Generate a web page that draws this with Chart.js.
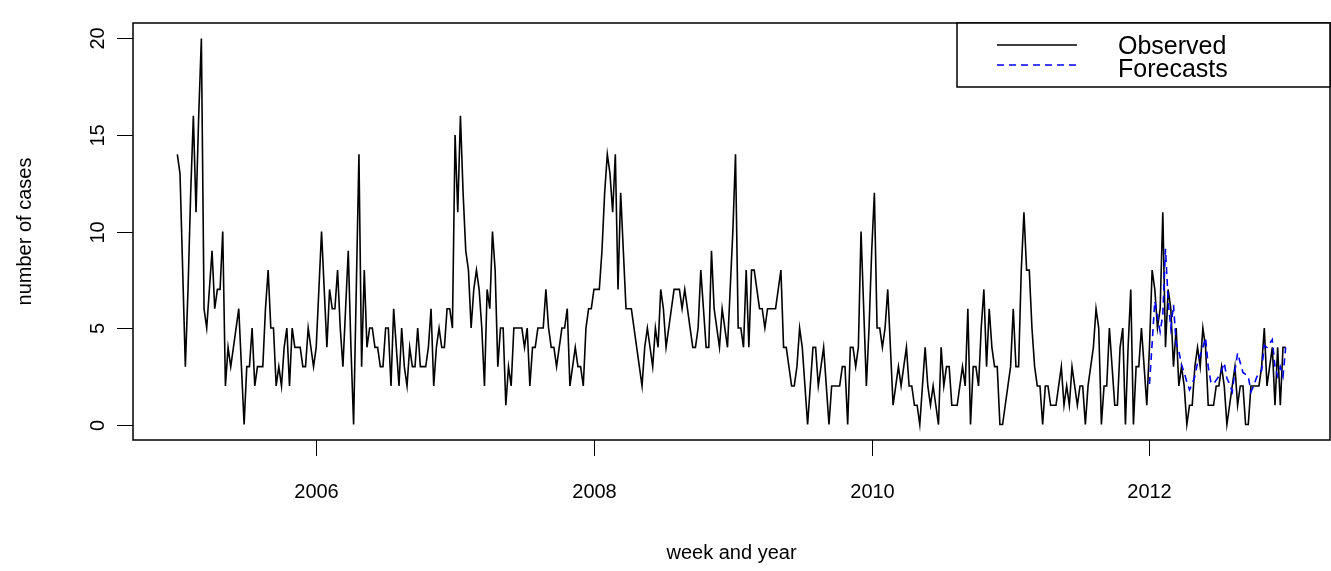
<!DOCTYPE html>
<html>
<head>
<meta charset="utf-8">
<script src="https://cdn.jsdelivr.net/npm/chart.js@4/dist/chart.umd.min.js"></script>
<style>
  html, body { margin: 0; padding: 0; background: #fff; }
  #wrap { width: 1331px; height: 571px; }
</style>
</head>
<body>
<div id="wrap"><canvas id="c" width="1331" height="571"></canvas></div>
<script>
// Weekly case counts, first week of 2005 onward (52 weeks per year)
const startYear = 2005;
const weeksPerYear = 52;
const observed = [
  14,13,8,3,7,12,16,11,16,20,6,5,7,9,6,7,7,10,2,4,3,4,5,6,3,0,
  3,3,5,2,3,3,3,6,8,5,5,2,3,2,4,5,2,5,4,4,4,3,3,5,4,3,
  4,7,10,7,4,7,6,6,8,5,3,6,9,4,0,7,14,3,8,4,5,5,4,4,3,3,
  5,5,2,6,4,2,5,3,2,4,3,3,5,3,3,3,4,6,2,4,5,4,4,6,6,5,
  15,11,16,12,9,8,5,7,8,7,5,2,7,6,10,8,3,5,5,1,3,2,5,5,5,5,
  4,5,2,4,4,5,5,5,7,5,4,4,3,4,5,5,6,2,3,4,3,3,2,5,6,6,
  7,7,7,9,12,14,13,11,14,7,12,9,6,6,6,5,4,3,2,4,5,4,3,5,4,7,
  6,4,5,6,7,7,7,6,7,6,5,4,4,5,8,6,4,4,9,6,5,4,6,5,4,7,
  10,14,5,5,4,8,4,8,8,7,6,6,5,6,6,6,6,7,8,4,4,3,2,2,3,5,
  4,2,0,2,4,4,2,3,4,2,0,2,2,2,2,3,3,0,4,4,3,4,10,6,2,5,
  9,12,5,5,4,5,7,4,1,2,3,2,3,4,2,2,1,1,0,2,4,2,1,2,1,0,
  4,2,3,3,1,1,1,2,3,2,6,0,3,3,2,5,7,3,6,4,3,3,0,0,1,2,
  3,6,3,3,8,11,8,8,5,3,2,2,0,2,2,1,1,1,2,3,1,2,1,3,2,1,
  2,2,0,2,3,4,6,5,0,2,2,5,3,1,1,4,5,0,4,7,0,3,3,5,3,1,
  4,8,7,5,6,11,4,7,6,3,5,2,3,2,0,1,1,3,4,3,5,4,1,1,1,2,
  2,3,2,0,1,2,3,1,2,2,0,0,2,2,2,2,3,5,2,3,4,1,4,1,4,4
];

// One-step-ahead forecasts for the weeks of 2012
const forecastStartWeek = 364;
const forecasts = [
  2.1,4.2,6.4,5.6,4.8,5.7,9.1,6.4,5.0,6.2,4.2,3.8,3.1,2.7,2.2,1.8,2.1,2.5,3.2,3.6,
  4.0,4.5,3.0,2.2,2.1,2.3,2.5,2.8,3.2,2.4,2.1,1.7,2.8,3.7,3.2,2.7,2.6,2.5,1.7,2.0,
  2.4,2.7,2.8,4.1,4.0,4.2,4.4,3.0,2.5,3.0,2.5,4.0
];

const xTicks = [2006, 2008, 2010, 2012];
const yTicks = [0, 5, 10, 15, 20];
const seriesNames = ['Observed', 'Forecasts'];
const xTitle = 'week and year';
const yTitle = 'number of cases';

const weekTime = i => startYear + i / weeksPerYear;
const obsPoints = observed.map((v, i) => ({ x: weekTime(i), y: v }));
const fcPoints = forecasts.map((v, i) => ({ x: weekTime(forecastStartWeek + i), y: v }));

// base-graphics style 4% padding around the data range
const xFirst = weekTime(0), xLast = weekTime(observed.length - 1);
const xPad = 0.04 * (xLast - xFirst);
const yLo = Math.min(...observed), yHi = Math.max(...observed);
const yPad = 0.04 * (yHi - yLo);

const FONT = '"Liberation Sans", Arial, Helvetica, sans-serif';

const frame = {
  id: 'frame',
  afterDraw(chart) {
    const { ctx, chartArea: ca, scales } = chart;
    const xs = scales.x, ys = scales.y;
    ctx.save();
    ctx.strokeStyle = '#000';
    ctx.fillStyle = '#000';

    // plot box
    ctx.lineWidth = 1.5;
    ctx.strokeRect(ca.left, ca.top, ca.right - ca.left, ca.bottom - ca.top);

    // x axis ticks and labels
    ctx.lineWidth = 1;
    ctx.font = '20px ' + FONT;
    ctx.textAlign = 'center';
    ctx.textBaseline = 'middle';
    xTicks.forEach(v => {
      const px = Math.round(xs.getPixelForValue(v)) + 0.5;
      ctx.beginPath();
      ctx.moveTo(px, ca.bottom);
      ctx.lineTo(px, ca.bottom + 16);
      ctx.stroke();
      ctx.fillText(String(v), px, 492);
    });

    // y axis ticks and rotated labels
    yTicks.forEach(v => {
      const py = Math.round(ys.getPixelForValue(v)) + 0.5;
      ctx.beginPath();
      ctx.moveTo(ca.left - 16, py);
      ctx.lineTo(ca.left, py);
      ctx.stroke();
      ctx.save();
      ctx.translate(98, py);
      ctx.rotate(-Math.PI / 2);
      ctx.fillText(String(v), 0, 0);
      ctx.restore();
    });

    // axis titles
    ctx.fillText(xTitle, (ca.left + ca.right) / 2, 553);
    ctx.save();
    ctx.translate(25, (ca.top + ca.bottom) / 2);
    ctx.rotate(-Math.PI / 2);
    ctx.fillText(yTitle, 0, 0);
    ctx.restore();

    // legend, top-right corner of the plot box
    const lx0 = 957, ly0 = ca.top, lx1 = ca.right, ly1 = 87;
    ctx.fillStyle = '#fff';
    ctx.fillRect(lx0, ly0, lx1 - lx0, ly1 - ly0);
    ctx.lineWidth = 1.5;
    ctx.strokeRect(lx0, ly0, lx1 - lx0, ly1 - ly0);

    ctx.lineWidth = 1.5;
    ctx.strokeStyle = '#000';
    ctx.beginPath();
    ctx.moveTo(997, 45);
    ctx.lineTo(1077, 45);
    ctx.stroke();

    ctx.strokeStyle = '#0000ff';
    ctx.setLineDash([7, 5]);
    ctx.beginPath();
    ctx.moveTo(997, 65);
    ctx.lineTo(1077, 65);
    ctx.stroke();
    ctx.setLineDash([]);

    ctx.fillStyle = '#000';
    ctx.font = '25px ' + FONT;
    ctx.textAlign = 'left';
    ctx.fillText(seriesNames[0], 1118, 47);
    ctx.fillText(seriesNames[1], 1118, 70);
    ctx.restore();
  }
};

new Chart(document.getElementById('c'), {
  type: 'line',
  data: {
    datasets: [
      {
        label: seriesNames[1],
        data: fcPoints,
        borderColor: '#0000ff',
        borderWidth: 1.6,
        borderDash: [7, 5],
        pointRadius: 0,
        tension: 0,
        fill: false,
        order: 0
      },
      {
        label: seriesNames[0],
        data: obsPoints,
        borderColor: '#000000',
        borderWidth: 1.6,
        pointRadius: 0,
        tension: 0,
        fill: false,
        order: 1
      }
    ]
  },
  options: {
    responsive: false,
    animation: false,
    devicePixelRatio: 1,
    layout: { padding: { top: 23, right: 1, left: 0, bottom: 0 } },
    plugins: { legend: { display: false }, tooltip: { enabled: false } },
    scales: {
      x: {
        type: 'linear',
        min: xFirst - xPad,
        max: xLast + xPad,
        ticks: { display: false },
        grid: { display: false },
        border: { display: false },
        afterFit(s) { s.height = 131; }
      },
      y: {
        type: 'linear',
        min: yLo - yPad,
        max: yHi + yPad,
        ticks: { display: false },
        grid: { display: false },
        border: { display: false },
        afterFit(s) { s.width = 133; }
      }
    }
  },
  plugins: [frame]
});
</script>
</body>
</html>
